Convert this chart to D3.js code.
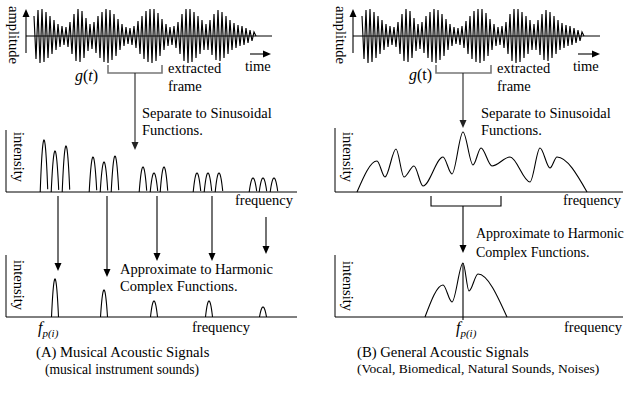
<!DOCTYPE html>
<html><head><meta charset="utf-8">
<script src="https://cdn.jsdelivr.net/npm/d3@7"></script>
<style>
body{margin:0;background:#fff}
svg{display:block}
text{font-family:"Liberation Serif","Times New Roman",serif;fill:#000}
</style>
</head><body>
<svg id="c" width="629" height="403"></svg>
<script>
// ---------------- DATA ----------------
// waveform g(t): alternating extreme values (amplitude units)
const waveAmp = [20,-23,26,-27,27,-26,24,-22,20,-18,
  16,-14,12,-11,10,-9,9,-11,14,-18,
  22,-25,27,-26,25,-22,18,-15,12,-13,
  14,-17,20,-22,24,-26,27,-27,26,-24,
  22,-20,17,-14,12,-10,9,-8,8,-9,
  10,-12,15,-18,20,-23,25,-26,27,-27,
  27,-25,23,-20,17,-14,12,-10,9,-9,
  10,-12,14,-18,22,-25,27,-27,27,-26,
  24,-22,20,-18,16,-14,12,-14,16,-19,
  22,-24,26,-25,24,-22,20,-18,16,-14,
  13,-12,11,-10,10,-9,8,-7,6,-5,
  4,0];

// (A) sinusoidal partials: frequency and intensity
const partialFreqA = [38,49,60, 87,98,109, 137,148,158, 191,202,213, 247,257,268];
const partialIntA  = [52,41,46, 35,30,36, 25,19,25, 19,19,19, 14,14,14];
// (A) harmonic complex approximation
const harmFreqA = [49,98,148,203,257];
const harmIntA  = [38,27,16,16,10];

// (B) continuous spectrum (extrema points)
const specFreqB = [22,42,50,61,69,79,88,108,117,128,138,146,157,175,195,205,215,222,252];
const specIntB  = [0,31,15,43,15,26,6,35,18,60,27,44,26,35,10,44,24,35,0];
// (B) harmonic complex approximation
const harmFreqB = [90,108,117,128,134,143,172];
const harmIntB  = [0,32,15,54,26,43,0];
const fpB = 128;

// ---------------- LAYOUT ----------------
const svg = d3.select("#c");
const black = "#000";
const FS = 14.5;

const waveY = d3.scaleLinear().domain([-27,27]).range([63,9]);
const waveXA = d3.scaleLinear().domain([0, waveAmp.length-1]).range([34,256]);
const waveXB = d3.scaleLinear().domain([0, waveAmp.length-1]).range([362,584]);

const fxA = d3.scaleLinear().domain([0,290]).range([6,296]);
const fxB = d3.scaleLinear().domain([0,290]).range([335,625]);
const yMid = d3.scaleLinear().domain([0,60]).range([192,132]);
const yBot = d3.scaleLinear().domain([0,60]).range([317,257]);

function line(x1,y1,x2,y2,color=black,w=1){
  svg.append("line").attr("x1",x1).attr("y1",y1).attr("x2",x2).attr("y2",y2)
    .attr("stroke",color).attr("stroke-width",w);
}
function arrowDown(x,y1,y2,color=black){
  line(x,y1,x,y2-6,color,1.1);
  svg.append("path").attr("d",`M${x},${y2}L${x-3.5},${y2-8}L${x+3.5},${y2-8}Z`).attr("fill",color);
}
function arrowUp(x,y1,y2){
  line(x,y1,x,y2+6,black,1.1);
  svg.append("path").attr("d",`M${x},${y2}L${x-3.5},${y2+8}L${x+3.5},${y2+8}Z`).attr("fill",black);
}
function arrowRight(x1,x2,y){
  line(x1,y,x2-6,y,black,1.1);
  svg.append("path").attr("d",`M${x2},${y}L${x2-8},${y-3.5}L${x2-8},${y+3.5}Z`).attr("fill",black);
}
function text(x,y,s,size=FS,opts={}){
  const t = svg.append("text").attr("x",x).attr("y",y).attr("font-size",size).text(s);
  if(opts.anchor) t.attr("text-anchor",opts.anchor);
  if(opts.italic) t.attr("font-style","italic");
  return t;
}
function vtext(x,y,s,size=FS){
  svg.append("text").attr("transform",`translate(${x},${y}) rotate(90)`)
    .attr("text-anchor","middle").attr("font-size",size).text(s);
}
function bracket(x1,x2,yTop,yBot,color,w){
  svg.append("path").attr("d",`M${x1},${yTop}V${yBot}H${x2}V${yTop}`)
    .attr("fill","none").attr("stroke",color).attr("stroke-width",w);
}

// ---------- waveform panels ----------
function wavePanel(xs, axisX, baseEnd){
  line(axisX, 36, baseEnd, 36, black, 1);
  arrowUp(axisX, 53, 9);
  const lg = d3.line().x((d,i)=>xs(i)).y(d=>waveY(d));
  svg.append("path").datum(waveAmp).attr("d",lg)
    .attr("fill","none").attr("stroke",black).attr("stroke-width",1.15).attr("stroke-linejoin","miter");
}
wavePanel(waveXA, 26, 272);
wavePanel(waveXB, 353, 600);

vtext(9, 35, "amplitude");
vtext(336, 35, "amplitude");
arrowRight(250, 271, 54);
arrowRight(578, 600, 54);
text(245, 71, "time");
text(573, 71, "time");

// g(t)
{
  const t = text(75, 81, "", 16);
  t.append("tspan").attr("font-style","italic").text("g");
  t.append("tspan").text("(");
  t.append("tspan").attr("font-style","italic").text("t");
  t.append("tspan").text(")");
  const t2 = text(409, 80, "", 16);
  t2.append("tspan").attr("font-style","italic").text("g");
  t2.append("tspan").text("(t)");
}
bracket(108,162,65,73,"#777",1.6);
bracket(436,491,65,73,"#777",1.6);
text(168, 73, "extracted");
text(168, 91, "frame");
text(497, 73, "extracted");
text(497, 91, "frame");

arrowDown(135, 73, 150, "#222");
arrowDown(463, 73, 128, "#222");
text(142, 118, "Separate to Sinusoidal");
text(142, 135, "Functions.");
text(481, 118, "Separate to Sinusoidal");
text(481, 135, "Functions.");

// ---------- (A) middle spectrum ----------
line(6,130,6,192); line(6,192,297,192);
vtext(14, 157, "intensity");
const peakLine = (fx, ys, f, h, w) => {
  const pts = d3.range(-w, w+0.001, 0.25).map(dx => [fx(f+dx), ys(h*(1-(dx/w)*(dx/w)))]);
  return d3.line()(pts);
};
partialFreqA.forEach((f,i)=>{
  svg.append("path").attr("d",peakLine(fxA,yMid,f,partialIntA[i],3.8))
    .attr("fill","none").attr("stroke",black).attr("stroke-width",1.1);
});
text(293, 205, "frequency", FS, {anchor:"end"});

// arrows middle -> bottom (A)
const arrowTipsA = [271,277,261,261,254];
harmFreqA.forEach((f,i)=>{
  arrowDown(fxA(f)+3, i<4 ? 196 : 217, arrowTipsA[i]);
});
text(120, 274, "Approximate to Harmonic");
text(120, 291, "Complex Functions.");

// ---------- (A) bottom spectrum ----------
line(6,255,6,317); line(6,317,297,317);
vtext(14, 285, "intensity");
harmFreqA.forEach((f,i)=>{
  svg.append("path").attr("d",peakLine(fxA,yBot,f,harmIntA[i],3.5))
    .attr("fill","none").attr("stroke",black).attr("stroke-width",1.1);
});
text(250, 332, "frequency", FS, {anchor:"end"});
function fp(x,y){
  const t = text(x,y,"",16);
  t.append("tspan").attr("font-style","italic").text("f");
  t.append("tspan").attr("font-style","italic").attr("font-size",11).attr("dy",4).text("p(i)");
}
fp(38, 333);

// ---------- (B) middle spectrum ----------
line(335,128,335,192); line(335,192,623,192);
vtext(343, 157, "intensity");
svg.append("path").datum(specFreqB.map((f,i)=>[fxB(f), yMid(specIntB[i])]))
  .attr("d", d3.line().curve(d3.curveMonotoneX))
  .attr("fill","none").attr("stroke",black).attr("stroke-width",1.1);
text(621, 205, "frequency", FS, {anchor:"end"});
bracket(431,501,196,206,black,1.1);
arrowDown(463, 206, 253);
text(476, 238, "Approximate to Harmonic", 14);
text(476, 257, "Complex Functions.", 14);

// ---------- (B) bottom spectrum ----------
line(335,255,335,317); line(335,317,623,317);
vtext(343, 286, "intensity");
svg.append("path").datum(harmFreqB.map((f,i)=>[fxB(f), yBot(harmIntB[i])]))
  .attr("d", d3.line().curve(d3.curveMonotoneX))
  .attr("fill","none").attr("stroke",black).attr("stroke-width",1.1);
line(fxB(fpB), yBot(harmIntB[3]), fxB(fpB), 320, black, 1.1);
text(622, 332, "frequency", FS, {anchor:"end"});
fp(456, 333);

// ---------- captions ----------
text(36, 357, "(A) Musical Acoustic Signals", 14.7);
text(122, 374, "(musical instrument sounds)", 13.6, {anchor:"middle"});
text(357, 357, "(B) General Acoustic Signals", 14.7);
text(357, 373, "(Vocal, Biomedical, Natural Sounds, Noises)", 13.5);
</script>
</body></html>
